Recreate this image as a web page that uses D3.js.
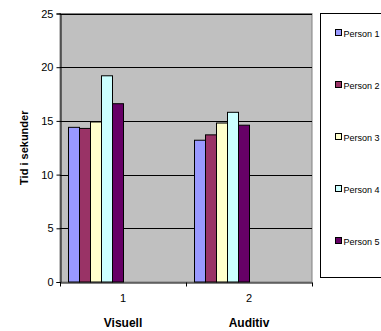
<!DOCTYPE html>
<html>
<head>
<meta charset="utf-8">
<script src="https://cdn.jsdelivr.net/npm/d3@7"></script>
<style>
  body { margin: 0; background: #fff; }
  text { font-family: Arial, "Liberation Sans", sans-serif; }
</style>
</head>
<body>
<div id="chart"></div>
<script>
const categories = ['1', '2'];
const categoryNames = ['Visuell', 'Auditiv'];
const persons = ['Person 1', 'Person 2', 'Person 3', 'Person 4', 'Person 5'];
const colors = ['#9999FF', '#993366', '#FFFFCC', '#CCFFFF', '#660066'];
// values[person][category]
const values = [
  [14.4, 13.2],
  [14.3, 13.7],
  [14.9, 14.8],
  [19.2, 15.8],
  [16.6, 14.6]
];
const yTicks = [0, 5, 10, 15, 20, 25];

const W = 381, H = 331;
const plot = { left: 60, right: 312, top: 13.5, bottom: 282 };

const svg = d3.select('#chart').append('svg')
  .attr('width', W).attr('height', H);

const x0 = d3.scaleBand().domain(categories).range([plot.left, plot.right]);
// bars sit in the left half of each category band
const x1 = d3.scaleBand().domain(persons).range([8, x0.bandwidth() / 2]);
const y = d3.scaleLinear().domain([0, 25]).range([plot.bottom, plot.top]);

// plot background
svg.append('rect')
  .attr('x', plot.left).attr('y', plot.top)
  .attr('width', plot.right - plot.left).attr('height', plot.bottom - plot.top)
  .attr('fill', '#C0C0C0')
  .attr('stroke', '#808080');

// gridlines
svg.append('g')
  .selectAll('line')
  .data(yTicks.slice(1))
  .join('line')
  .attr('x1', plot.left).attr('x2', plot.right)
  .attr('y1', d => Math.round(y(d)) + 0.5).attr('y2', d => Math.round(y(d)) + 0.5)
  .attr('stroke', '#000');

// bars
const data = [];
persons.forEach((p, i) => categories.forEach((c, j) => data.push({ p, c, v: values[i][j], color: colors[i] })));

svg.append('g')
  .selectAll('rect')
  .data(data)
  .join('rect')
  .attr('x', d => x0(d.c) + x1(d.p) + 0.5)
  .attr('y', d => y(d.v))
  .attr('width', x1.bandwidth())
  .attr('height', d => plot.bottom - y(d.v))
  .attr('fill', d => d.color)
  .attr('stroke', '#000')
  .attr('stroke-width', 1);

// y axis
const yAxis = svg.append('g')
  .attr('transform', `translate(${plot.left + 0.5},0)`)
  .call(d3.axisLeft(y).tickValues(yTicks).tickSize(4).tickPadding(3));
yAxis.select('.domain').attr('stroke', '#000');
yAxis.selectAll('text').attr('font-size', 11).attr('fill', '#000')
  .style('font-family', 'Arial, "Liberation Sans", sans-serif');

// x axis
const xAxis = svg.append('g')
  .attr('transform', `translate(0,${plot.bottom + 0.5})`)
  .call(d3.axisBottom(x0).tickSize(0).tickPadding(12));
xAxis.select('.domain').attr('stroke', '#000');
xAxis.selectAll('text').attr('font-size', 11).attr('fill', '#000')
  .style('font-family', 'Arial, "Liberation Sans", sans-serif');
xAxis.selectAll('.sep')
  .data([plot.left, x0('2'), plot.right])
  .join('line')
  .attr('x1', d => d + 0.5).attr('x2', d => d + 0.5)
  .attr('y1', 0).attr('y2', 4)
  .attr('stroke', '#000');

// category names
svg.append('g')
  .selectAll('text')
  .data(categories)
  .join('text')
  .attr('x', d => x0(d) + x0.bandwidth() / 2)
  .attr('y', 327)
  .attr('text-anchor', 'middle')
  .attr('font-size', 12)
  .attr('font-weight', 'bold')
  .text((d, i) => categoryNames[i]);

// y label
svg.append('text')
  .attr('transform', `translate(28,${(plot.top + plot.bottom) / 2}) rotate(-90)`)
  .attr('text-anchor', 'middle')
  .attr('font-size', 11)
  .attr('font-weight', 'bold')
  .text('Tid i sekunder');

// legend
svg.append('rect')
  .attr('x', 320.5).attr('y', 13.5)
  .attr('width', 70).attr('height', 264)
  .attr('fill', '#fff')
  .attr('stroke', '#000');

const legend = svg.append('g')
  .selectAll('g')
  .data(persons)
  .join('g')
  .attr('transform', (d, i) => `translate(335,${33 + i * 52})`);
legend.append('rect')
  .attr('x', 0.5).attr('y', -3.5)
  .attr('width', 6).attr('height', 6)
  .attr('fill', (d, i) => colors[i])
  .attr('stroke', '#000');
legend.append('text')
  .attr('x', 8.5)
  .attr('y', 3.5)
  .attr('font-size', 9)
  .text(d => d);
</script>
</body>
</html>
